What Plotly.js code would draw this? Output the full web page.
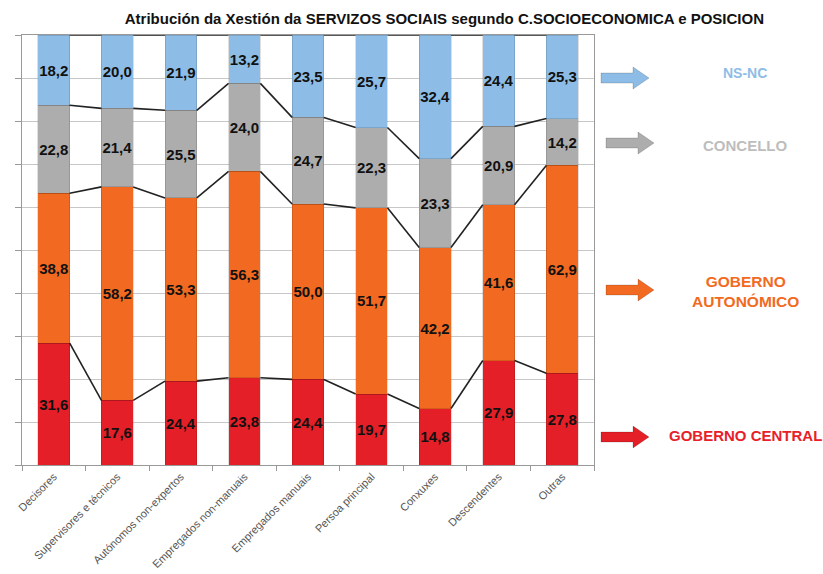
<!DOCTYPE html>
<html><head><meta charset="utf-8">
<script src="https://cdn.plot.ly/plotly-3.0.1.min.js"></script>
<style>body{margin:0;background:#fff}#c{width:823px;height:574px}</style>
</head><body><div id="c"></div>
<script>
const categories = ["Decisores","Supervisores e técnicos","Autónomos non-expertos","Empregados non-manuais","Empregados manuais","Persoa principal","Conxuxes","Descendentes","Outras"];
const gobernoCentral = [31.6,17.6,24.4,23.8,24.4,19.7,14.8,27.9,27.8];
const gobernoAutonomico = [38.8,58.2,53.3,56.3,50.0,51.7,42.2,41.6,62.9];
const concello = [22.8,21.4,25.5,24.0,24.7,22.3,23.3,20.9,14.2];
const nsnc = [18.2,20.0,21.9,13.2,23.5,25.7,32.4,24.4,25.3];
const seriesNames = ["GOBERNO CENTRAL","GOBERNO AUTONÓMICO","CONCELLO","NS-NC"];
const seriesColors = ["#E41F27","#F26A21","#ADADAD","#8DBDE6"];
const labelColors = ["#E8202A","#F26A21","#BDBDBD","#8DBDE6"];

const series = [gobernoCentral, gobernoAutonomico, concello, nsnc];
const xs = categories.map((_, i) => i);
const fmt = v => v.toFixed(1).replace('.', ',');
const traces = [];
series.forEach((vals, k) => {
  traces.push({
    type: 'bar', x: xs, y: vals, name: seriesNames[k],
    marker: {color: seriesColors[k], line: {color: 'rgba(0,0,0,0.25)', width: 0.5}},
    width: 0.5,
    text: vals.map(fmt), textposition: 'inside', insidetextanchor: 'middle',
    textangle: 0, constraintext: 'none',
    textfont: {family: 'Arial, Liberation Sans, sans-serif', size: 15, color: '#111', weight: 'bold'},
    hoverinfo: 'skip', showlegend: false
  });
});
// series lines connecting cumulative tops
const totals = xs.map(i => series.reduce((s, a) => s + a[i], 0));
const lx = [], ly = [];
for (let k = 0; k < series.length; k++) {
  const cum = xs.map(i => { let s = 0; for (let j = 0; j <= k; j++) s += series[j][i]; return s / totals[i] * 100; });
  for (let i = 0; i < xs.length - 1; i++) {
    lx.push(xs[i] + 0.25, xs[i + 1] - 0.25, null);
    ly.push(cum[i], cum[i + 1], null);
  }
}
traces.push({type: 'scatter', mode: 'lines', x: lx, y: ly, line: {color: '#222', width: 1.6}, hoverinfo: 'skip', showlegend: false, connectgaps: false});

// legend arrows + labels in pixel-based paper coords
const L = 22, R = 594, T = 35, B = 465;
const px = x => (x - L) / (R - L), py = y => (B - y) / (B - T);
function arrow(x0, yc, color) {
  const pts = [[x0, yc - 5], [x0 + 32, yc - 5], [x0 + 32, yc - 11], [x0 + 48, yc], [x0 + 32, yc + 11], [x0 + 32, yc + 5], [x0, yc + 5]];
  return {type: 'path', xref: 'paper', yref: 'paper', path: 'M' + pts.map(p => px(p[0]) + ',' + py(p[1])).join(' L') + ' Z',
    fillcolor: color, line: {color: 'rgba(0,0,0,0.2)', width: 0.8}};
}
const arrowY = [437, 290, 143, 78];
const arrowX = [601, 606, 606, 601];
const shapes = arrowY.map((y, k) => arrow(arrowX[k], y, seriesColors[k]));
const labelText = ["GOBERNO CENTRAL", "GOBERNO<br>AUTONÓMICO", "CONCELLO", "NS-NC"];
const labelY = [435, 291, 145, 73];
const labelSize = [15, 15.5, 15, 14];
const annotations = labelText.map((t, k) => ({
  xref: 'paper', yref: 'paper', x: px(745), y: py(labelY[k]), xanchor: 'center', yanchor: 'middle',
  text: '<b>' + t + '</b>', showarrow: false, align: 'center',
  font: {family: 'Arial, Liberation Sans, sans-serif', size: labelSize[k], color: labelColors[k]}
}));

const layout = {
  width: 823, height: 574,
  margin: {l: L, r: 823 - R, t: T, b: 574 - B},
  paper_bgcolor: '#fff', plot_bgcolor: '#fff',
  barmode: 'stack', barnorm: 'percent',
  title: {text: '<b>Atribución da Xestión da SERVIZOS SOCIAIS segundo C.SOCIOECONOMICA e POSICION</b>',
    x: 0.54, xanchor: 'center', y: 0.968, yanchor: 'middle',
    font: {family: 'Arial, Liberation Sans, sans-serif', size: 15, color: '#111'}},
  xaxis: {range: [-0.5, 8.5], tickvals: xs, ticktext: categories, tickangle: -45,
    tickfont: {family: 'Arial, Liberation Sans, sans-serif', size: 11, color: '#555'},
    ticks: '', showline: true, linecolor: '#999', mirror: true, showgrid: false, zeroline: false,
    minor: {tick0: 0.5, dtick: 1, ticks: 'outside', ticklen: 5, tickcolor: '#999', showgrid: false}},
  yaxis: {range: [0, 100], dtick: 10, showticklabels: false, ticks: 'outside', ticklen: 6, tickcolor: '#999',
    showgrid: true, gridcolor: '#c8c8c8', gridwidth: 1, showline: true, linecolor: '#999', mirror: true, zeroline: false},
  shapes: shapes, annotations: annotations,
  bargap: 0.5
};
Plotly.newPlot('c', traces, layout, {displayModeBar: false, staticPlot: true});
</script></body></html>
